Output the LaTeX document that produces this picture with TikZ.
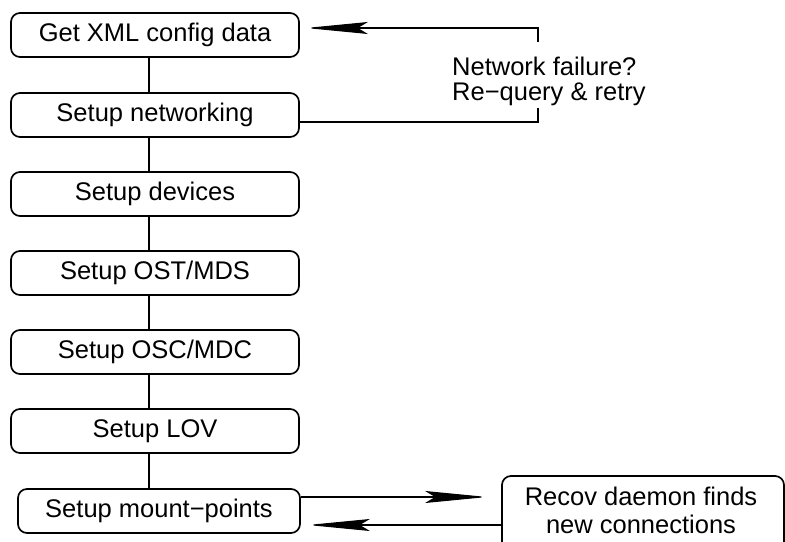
\documentclass[tikz,border=0pt]{standalone}
\usepackage{fontspec}
\setmainfont{Liberation Sans}
\usetikzlibrary{arrows.meta}
\tikzset{
  x=1bp, y=-1bp,
  stepbox/.style={draw, line width=1.7bp, rounded corners=9bp, minimum width=288bp, minimum height=44bp, inner sep=0pt, font=\fontsize{25.5bp}{28bp}\selectfont},
  link/.style={line width=1.1bp},
  arr/.style={line width=1.1bp, -{Stealth[length=62bp, width=12bp, inset=10bp]}},
  lbl/.style={inner sep=0pt, align=left, font=\fontsize{25.5bp}{25bp}\selectfont},
}
\begin{document}
\begin{tikzpicture}
\useasboundingbox (0,0) rectangle (785,542);
\clip (0,0) rectangle (785,542);
\node[stepbox] (b1) at (155,35) {Get XML config data};
\node[stepbox] (b2) at (155,115) {Setup networking};
\node[stepbox] (b3) at (155,194) {Setup devices};
\node[stepbox] (b4) at (155,273) {Setup OST/MDS};
\node[stepbox] (b5) at (155,352) {Setup OSC/MDC};
\node[stepbox] (b6) at (155,431) {Setup LOV};
\node[stepbox, minimum width=282bp] (b7) at (159,511) {Setup mount−points};
\node[stepbox, minimum width=282bp, minimum height=96bp] (recov) at (643,524) {};
\node[lbl, align=center, font=\fontsize{25.5bp}{28bp}\selectfont, anchor=center] (recovtext) at (641,510) {Recov daemon finds\\new connections};
\node[lbl, anchor=west] (fail) at (452,81) {Network failure?\\Re−query \& retry};
\coordinate (c149) at (149,0);
\draw[link] (b1.south -| c149) -- (b2.north -| c149);
\draw[link] (b2.south -| c149) -- (b3.north -| c149);
\draw[link] (b3.south -| c149) -- (b4.north -| c149);
\draw[link] (b4.south -| c149) -- (b5.north -| c149);
\draw[link] (b5.south -| c149) -- (b6.north -| c149);
\draw[link] (b6.south -| c149) -- (b7.north -| c149);
\coordinate (t1) at (538,42);
\coordinate (k1) at (538,28);
\coordinate (t2) at (538,108);
\coordinate (k2) at (538,122);
\coordinate (y497) at (0,497);
\coordinate (y525) at (0,525);
\draw[arr, shorten >=6bp] (t1) -- (k1) -- (b1.east |- k1);
\draw[link] (t2) -- (k2) -- (b2.east |- k2);
\draw[arr, shorten >=14bp] (b7.east |- y497) -- (recov.west |- y497);
\draw[arr, shorten >=7bp] (recov.west |- y525) -- (b7.east |- y525);
\end{tikzpicture}
\end{document}
